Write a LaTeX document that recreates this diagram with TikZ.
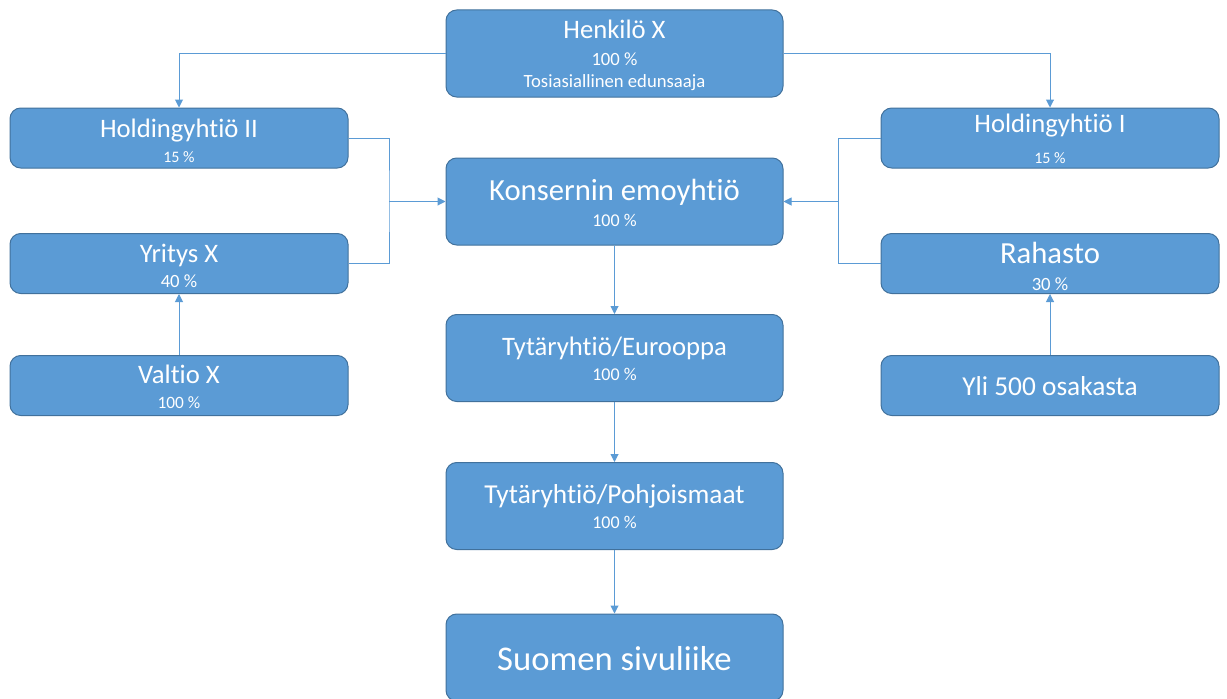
\documentclass[tikz,border=0pt]{standalone}
\usepackage{fontspec}
\setmainfont{Carlito}[Ligatures={NoCommon}]
\usetikzlibrary{arrows.meta}
\definecolor{boxfill}{HTML}{5B9BD5}
\definecolor{boxline}{HTML}{41719C}
\begin{document}
\begin{tikzpicture}[x=0.75pt,y=-0.75pt,
  box/.style={draw=boxline, line width=0.75pt, fill=boxfill, rounded corners=8pt, inner sep=0pt},
  bigbox/.style={box, minimum width=252.75pt, minimum height=65.25pt},
  smallbox/.style={box, minimum width=253.5pt, minimum height=45pt},
  lbl/.style={text=white, anchor=base, inner sep=0pt},
  conn/.style={draw=boxfill, line width=0.75pt},
  arr/.style={conn, -{Triangle[width=6pt,length=6pt]}}]
\useasboundingbox (0,0) rectangle (1227,699);
% boxes
\node[bigbox] (hx) at (614.5,53.5) {};
\node[bigbox] (ke) at (614.5,201.5) {};
\node[bigbox] (te) at (614.5,358) {};
\node[bigbox] (tp) at (614.5,506) {};
\node[bigbox] (ss) at (614.5,657.5) {};
\node[smallbox] (h2) at (179,138) {};
\node[smallbox] (yx) at (179,263.5) {};
\node[smallbox] (vx) at (179,385.5) {};
\node[smallbox] (h1) at (1050,138) {};
\node[smallbox] (ra) at (1050,263.5) {};
\node[smallbox] (yo) at (1050,385.5) {};
% labels
\node[lbl, font=\fontsize{20}{24}\selectfont] (hxa) at (614.5,39) {Henkilö X};
\node[lbl, font=\fontsize{14}{16}\selectfont] (hxb) at (614.5,65) {100 \%};
\node[lbl, font=\fontsize{14}{16}\selectfont] (hxc) at (614.5,88) {Tosiasiallinen edunsaaja};
\node[lbl, font=\fontsize{23}{26}\selectfont] (kea) at (614.5,200) {Konsernin emoyhtiö};
\node[lbl, font=\fontsize{13.5}{16}\selectfont] (keb) at (614.5,226) {100 \%};
\node[lbl, font=\fontsize{20}{24}\selectfont] (tea) at (614.5,355) {Tytäryhtiö/Eurooppa};
\node[lbl, font=\fontsize{13.5}{16}\selectfont] (teb) at (614.5,380) {100 \%};
\node[lbl, font=\fontsize{20.5}{24}\selectfont] (tpa) at (614.5,503) {Tytäryhtiö/Pohjoismaat};
\node[lbl, font=\fontsize{13.5}{16}\selectfont] (tpb) at (614.5,528) {100 \%};
\node[lbl, font=\fontsize{26}{30}\selectfont] (ssa) at (614.5,670) {Suomen sivuliike};
\node[lbl, font=\fontsize{20}{24}\selectfont] (h2a) at (179,137) {Holdingyhtiö II};
\node[lbl, font=\fontsize{12}{14}\selectfont] (h2b) at (179,162) {15 \%};
\node[lbl, font=\fontsize{20}{24}\selectfont] (yxa) at (179,262) {Yritys X};
\node[lbl, font=\fontsize{14}{16}\selectfont] (yxb) at (179,287) {40 \%};
\node[lbl, font=\fontsize{20}{24}\selectfont] (vxa) at (179,383) {Valtio X};
\node[lbl, font=\fontsize{13}{16}\selectfont] (vxb) at (179,408) {100 \%};
\node[lbl, font=\fontsize{20}{24}\selectfont] (h1a) at (1050,132) {Holdingyhtiö I};
\node[lbl, font=\fontsize{12}{14}\selectfont] (h1b) at (1050,163) {15 \%};
\node[lbl, font=\fontsize{23}{26}\selectfont] (raa) at (1050,263) {Rahasto};
\node[lbl, font=\fontsize{14}{16}\selectfont] (rab) at (1050,290) {30 \%};
\node[lbl, font=\fontsize{20.5}{24}\selectfont] (yoa) at (1050,395) {Yli 500 osakasta};
% connectors
\draw[arr] (hx.west) -| (h2.north);
\draw[arr] (hx.east) -| (h1.north);
\coordinate (lj) at (389,201.5);
\coordinate (rj) at (838,201.5);
\draw[conn] (h2.east) -| (lj) |- (yx.east);
\draw[arr] (lj) -- (lj -| ke.west);
\draw[conn] (h1.west) -| (rj) |- (ra.west);
\draw[arr] (rj) -- (rj -| ke.east);
\draw[arr] (vx.north) -- (yx.south);
\draw[arr] (yo.north) -- (ra.south);
\draw[arr] (ke.south) -- (te.north);
\draw[arr] (te.south) -- (tp.north);
\draw[arr] (tp.south) -- (ss.north);
\end{tikzpicture}
\end{document}
